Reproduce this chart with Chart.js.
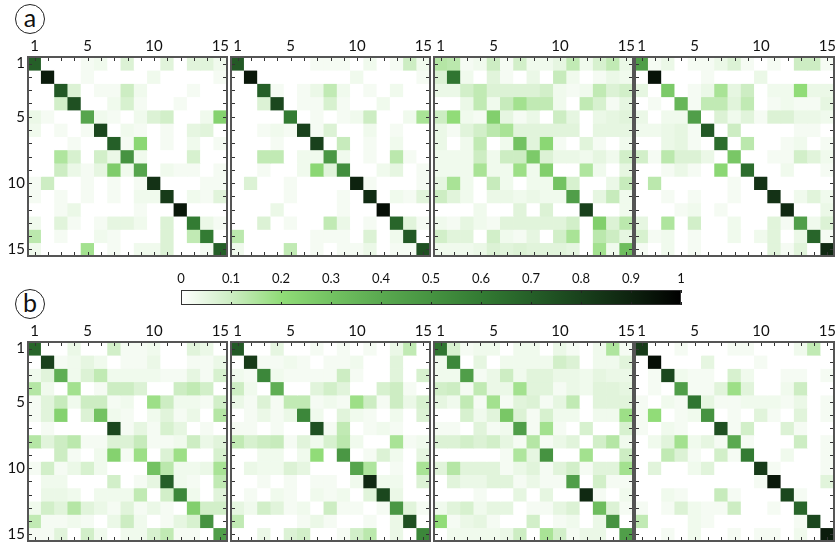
<!DOCTYPE html>
<html>
<head>
<meta charset="utf-8">
<script src="https://cdn.jsdelivr.net/npm/chart.js@4.4.1/dist/chart.umd.min.js"></script>
<style>
  body { margin: 0; background: #fff; width: 838px; height: 547px; position: relative; overflow: hidden; }
  canvas { position: absolute; }
  .tag { position: absolute; width: 28px; height: 28px; border: 1.3px solid #222; border-radius: 50%;
         font: 25px Lato, sans-serif; color: #111; text-align: center; line-height: 25px; }
</style>
</head>
<body>
<div class="tag" style="left:15px;top:4px">a</div>
<div class="tag" style="left:15px;top:289px">b</div>

<script>
// axis categories (1..15 on both axes) and the tick labels that are printed
const cols = ["1","2","3","4","5","6","7","8","9","10","11","12","13","14","15"];
const rows = [1,2,3,4,5,6,7,8,9,10,11,12,13,14,15];
const shownTicks = [1, 5, 10, 15];
const cbTicks = [0, 0.1, 0.2, 0.3, 0.4, 0.5, 0.6, 0.7, 0.8, 0.9, 1];
const cbLabels = ["0","0.1","0.2","0.3","0.4","0.5","0.6","0.7","0.8","0.9","1"];

// colour scale stops (value -> rgb)
const cmapVals = [0, 0.1, 0.2, 0.3, 0.4, 0.5, 0.6, 0.7, 0.8, 0.9, 1];
const cmapRgb = [[255,255,255],[205,237,195],[145,220,120],[115,194,98],[90,169,80],[70,147,65],
                 [51,123,51],[37,95,40],[25,65,28],[14,35,15],[0,0,0]];

// row a
const matA1 = [
  [0.7,0,0,0,0.02,0.03,0,0.07,0,0,0.06,0,0.06,0.06,0.03],
  [0,0.92,0,0,0.02,0,0,0,0,0.03,0,0,0,0,0.02],
  [0,0,0.72,0.07,0,0.02,0.02,0.1,0.03,0,0,0,0.02,0,0],
  [0,0,0.09,0.75,0,0,0.03,0.08,0.02,0,0,0.02,0,0,0],
  [0.04,0.02,0,0,0.42,0.03,0.02,0,0.03,0.07,0.09,0,0,0.03,0.24],
  [0.03,0,0.02,0,0.02,0.78,0,0.03,0.02,0,0.02,0,0.05,0.06,0],
  [0,0,0,0.02,0,0,0.7,0.02,0.22,0,0.02,0,0.03,0,0.02],
  [0,0,0.15,0.08,0,0.09,0.04,0.5,0.03,0,0,0,0.08,0,0],
  [0,0,0.1,0.04,0.02,0.05,0.26,0.03,0.42,0,0.03,0.02,0.02,0,0.02],
  [0.02,0.1,0,0,0.02,0,0.02,0,0.02,0.85,0,0,0,0.02,0.02],
  [0.02,0,0.02,0,0.02,0,0.02,0,0.03,0.03,0.82,0,0.03,0.02,0.06],
  [0,0,0.02,0.04,0,0,0,0,0.02,0,0,0.93,0,0,0],
  [0.03,0,0.06,0.02,0,0.02,0.05,0.05,0.03,0,0.07,0,0.6,0.04,0.02],
  [0.13,0,0.02,0,0,0.03,0.02,0,0,0,0.07,0,0.12,0.6,0],
  [0.03,0,0,0,0.17,0,0.02,0,0.03,0.03,0.07,0,0,0.02,0.7]
];
const matA2 = [
  [0.72,0,0,0,0,0,0.02,0.02,0.02,0,0.03,0,0.02,0.1,0.03],
  [0,0.93,0,0,0,0,0,0,0,0.03,0,0,0,0,0.02],
  [0,0,0.7,0.02,0,0.02,0.04,0.12,0.03,0,0.02,0,0.03,0,0],
  [0,0,0.07,0.78,0,0.02,0.02,0.08,0.02,0,0,0.03,0,0,0],
  [0,0,0,0,0.6,0,0.02,0,0.02,0.03,0.1,0,0,0.03,0.16],
  [0,0,0.02,0.03,0.02,0.8,0.02,0.07,0,0,0.03,0,0.02,0,0],
  [0,0,0,0.02,0,0,0.8,0,0.11,0,0.02,0,0.03,0,0],
  [0,0,0.12,0.12,0,0.03,0.03,0.48,0.03,0,0.02,0,0.13,0.02,0],
  [0,0,0.02,0,0,0.03,0.22,0.06,0.52,0,0,0.03,0.05,0,0.02],
  [0,0.07,0,0,0.02,0,0,0,0,0.9,0.02,0,0,0,0.02],
  [0,0,0,0,0.02,0,0,0,0.02,0,0.87,0,0.03,0.02,0.06],
  [0,0,0,0.04,0,0,0,0,0.02,0,0,0.96,0,0,0],
  [0,0,0.07,0,0.02,0,0,0.12,0.04,0,0.02,0,0.68,0.06,0.02],
  [0.13,0,0,0,0,0,0.02,0.02,0.02,0,0.07,0,0.03,0.72,0],
  [0.03,0,0,0,0.12,0,0.02,0,0.02,0.02,0.04,0,0.02,0.02,0.75]
];
const matA3 = [
  [0.14,0.13,0.02,0.03,0.1,0.02,0.09,0.03,0.03,0.05,0.12,0.03,0.08,0.12,0.04],
  [0.07,0.62,0.03,0,0.06,0.02,0,0.04,0,0.11,0.03,0,0.02,0.04,0.03],
  [0.04,0.04,0.09,0.12,0.07,0.07,0.07,0.07,0.09,0.03,0.02,0.03,0.12,0.07,0.09],
  [0,0,0.04,0.12,0.03,0.11,0.17,0.12,0.12,0.03,0,0.12,0.08,0.02,0.05],
  [0.1,0.2,0.03,0.02,0.25,0.05,0.02,0.04,0,0.1,0.05,0,0.04,0.05,0.06],
  [0.04,0.02,0.06,0.09,0.13,0.16,0.06,0.06,0.06,0.06,0.06,0,0.05,0.05,0.05],
  [0.04,0,0.03,0.12,0,0.03,0.3,0.06,0.22,0.02,0,0.06,0.02,0,0.03],
  [0.03,0.03,0.03,0.1,0.03,0.1,0.1,0.27,0.07,0.04,0.04,0.03,0.05,0.03,0.09],
  [0.03,0.03,0.03,0.16,0.03,0.03,0.18,0.03,0.25,0,0,0.15,0.03,0,0.05],
  [0.05,0.16,0.03,0,0.11,0.03,0,0.03,0.03,0.3,0.08,0,0,0.04,0.11],
  [0.1,0.06,0.03,0,0.04,0.04,0.03,0.04,0.03,0.03,0.45,0,0.05,0.11,0.03],
  [0,0,0,0.03,0,0,0.06,0,0.07,0,0,0.8,0,0,0.03],
  [0.03,0.02,0.05,0.03,0.02,0.06,0.06,0.06,0.06,0.06,0.09,0,0.25,0.07,0.13],
  [0.09,0.06,0.06,0,0.09,0.03,0.02,0.05,0,0.09,0.16,0,0.13,0.1,0.05],
  [0.03,0.03,0.03,0.04,0.07,0.06,0.07,0.06,0.06,0.06,0.05,0,0.17,0.03,0.32]
];
const matA4 = [
  [0.45,0.02,0.04,0,0.02,0.02,0.04,0.07,0.02,0,0.02,0,0.1,0.1,0.02],
  [0,0.95,0,0,0,0.02,0,0,0,0.04,0,0,0,0,0],
  [0.05,0,0.27,0,0.02,0.04,0.16,0.05,0.1,0,0.03,0.03,0.2,0.04,0.04],
  [0,0.02,0,0.35,0.02,0.12,0.12,0.06,0.12,0,0.02,0.03,0.02,0.02,0.05],
  [0.04,0,0.03,0.03,0.45,0,0.07,0.03,0.06,0.02,0.07,0.07,0.04,0.04,0.03],
  [0.03,0.03,0.04,0.05,0.02,0.72,0,0.1,0,0,0,0,0.02,0.02,0],
  [0,0,0.04,0.05,0.02,0,0.65,0,0.13,0,0,0.02,0.03,0,0.02],
  [0.09,0.02,0.13,0.07,0.07,0.04,0,0.28,0,0,0.02,0.02,0.09,0.06,0.03],
  [0,0,0.02,0.04,0.02,0,0.22,0,0.65,0,0,0.03,0,0,0.02],
  [0,0.13,0,0,0,0,0,0.02,0,0.85,0,0,0,0,0],
  [0,0,0.02,0,0.02,0,0,0.02,0,0,0.85,0,0.03,0.06,0.03],
  [0,0,0,0.02,0.03,0,0.02,0,0,0,0,0.88,0,0,0.04],
  [0.05,0,0.15,0,0.09,0,0,0.03,0,0,0.06,0.02,0.45,0.03,0.07],
  [0.08,0.02,0.03,0,0.02,0,0,0.03,0,0.03,0.06,0,0.04,0.68,0.02],
  [0.02,0,0.03,0,0.02,0,0,0,0,0,0.06,0.02,0.06,0,0.88]
];

// row b
const matB1 = [
  [0.68,0,0,0.04,0,0,0.09,0.02,0.02,0.03,0,0,0.06,0.04,0],
  [0,0.8,0.02,0.03,0.05,0.03,0,0.02,0.02,0.04,0,0,0.02,0.02,0.04],
  [0.03,0.06,0.38,0.03,0.07,0.12,0.03,0.03,0.03,0.03,0.02,0.02,0.05,0.02,0.08],
  [0.14,0.03,0,0.17,0,0.02,0.1,0.1,0.07,0,0,0.1,0.12,0.09,0],
  [0.02,0.06,0.11,0.03,0.1,0.1,0.02,0.03,0,0.18,0.1,0.03,0.03,0.02,0.09],
  [0.02,0.06,0.24,0,0.07,0.3,0.03,0.02,0,0.03,0.06,0.02,0.04,0,0.14],
  [0,0.02,0,0,0,0,0.78,0.02,0.05,0.02,0.08,0.05,0,0.02,0],
  [0.14,0.06,0.1,0.13,0.02,0.02,0.07,0.07,0.11,0.02,0.02,0.03,0.1,0.04,0.06],
  [0,0,0.1,0.02,0,0.03,0.24,0.02,0.18,0,0.07,0.18,0,0,0.08],
  [0.02,0.09,0.02,0.04,0.08,0.03,0,0,0,0.3,0.13,0.03,0.03,0.04,0.16],
  [0,0.03,0.03,0,0,0,0.09,0,0.02,0.05,0.7,0.03,0.02,0,0.12],
  [0,0.04,0.04,0.03,0,0.03,0.03,0.03,0.12,0,0.09,0.55,0.03,0,0.06],
  [0.03,0.09,0.06,0.14,0.06,0.04,0.02,0.06,0.02,0.04,0.02,0,0.25,0.09,0.09],
  [0.12,0.02,0.02,0.03,0.02,0,0.04,0.1,0.03,0,0.02,0.05,0.08,0.5,0],
  [0.02,0.02,0.06,0,0.09,0.03,0,0.03,0.03,0.08,0.12,0.02,0.02,0,0.45]
];
const matB2 = [
  [0.72,0,0,0.05,0,0,0.02,0,0.02,0,0.02,0,0.04,0.12,0],
  [0,0.82,0.02,0.02,0.03,0.02,0,0.02,0.02,0.03,0,0,0.06,0,0],
  [0.03,0.02,0.55,0.03,0.02,0.02,0.02,0.02,0.1,0.02,0,0,0.06,0,0.08],
  [0.1,0.03,0,0.38,0,0,0.06,0.09,0.06,0,0,0.08,0.1,0.02,0],
  [0.04,0.02,0.07,0.02,0.12,0.12,0.02,0.03,0.02,0.18,0.1,0.02,0.1,0.04,0.08],
  [0,0.02,0.04,0.02,0.04,0.55,0.03,0,0.06,0.03,0.02,0,0.03,0,0.07],
  [0.02,0.02,0,0.02,0,0,0.75,0.02,0.12,0,0.02,0.03,0.02,0,0],
  [0.12,0.08,0.1,0.11,0.02,0.06,0.03,0.08,0.13,0.03,0,0,0.16,0.02,0.03],
  [0,0,0.03,0.03,0,0.03,0.2,0,0.48,0,0.02,0.07,0.03,0,0.05],
  [0,0.04,0.03,0.03,0.07,0.05,0,0,0,0.42,0.15,0,0.02,0,0.16],
  [0,0,0.02,0,0.02,0,0.02,0.02,0,0.03,0.88,0.03,0.03,0,0.07],
  [0,0.02,0,0.03,0.02,0,0.03,0.02,0.03,0,0.06,0.78,0.04,0,0],
  [0.05,0.03,0.09,0.06,0.02,0.03,0,0.1,0.02,0.02,0,0.02,0.48,0.06,0.02],
  [0.12,0,0,0,0,0.02,0.04,0.02,0,0,0.02,0,0.04,0.75,0],
  [0,0,0.04,0,0.07,0.09,0,0,0.02,0.09,0.13,0,0.04,0,0.55]
];
const matB3 = [
  [0.62,0.08,0.02,0.03,0.03,0,0.03,0.03,0,0.04,0.02,0,0.03,0.15,0.02],
  [0.03,0.55,0,0.05,0,0.03,0.03,0.03,0.03,0.09,0.07,0,0.03,0.03,0.06],
  [0.03,0.03,0.45,0.02,0.04,0.1,0.03,0.06,0.06,0.04,0.04,0.03,0.05,0.04,0.04],
  [0.09,0.1,0.02,0.12,0.04,0.04,0.17,0.06,0.06,0.02,0.04,0.03,0.06,0.06,0.05],
  [0.05,0.03,0.12,0.02,0.17,0.02,0.06,0.07,0.02,0.05,0.12,0,0.06,0.06,0.06],
  [0,0,0.08,0.03,0.06,0.28,0.07,0.02,0.08,0.03,0.03,0,0.03,0.03,0.18],
  [0.02,0.02,0,0.06,0.02,0.03,0.45,0.02,0.17,0.02,0,0.08,0,0,0.08],
  [0.07,0.07,0.09,0.07,0.09,0.05,0.02,0.14,0.02,0.04,0.06,0,0.09,0.14,0.03],
  [0,0,0,0,0,0.02,0.15,0.05,0.5,0,0,0.17,0,0,0.1],
  [0.06,0.14,0.06,0.06,0.06,0.02,0.04,0.06,0.02,0.06,0.09,0.02,0.06,0.06,0.17],
  [0,0.06,0.04,0.04,0.06,0.06,0.02,0.04,0.02,0.02,0.45,0,0.09,0.02,0.02],
  [0,0,0,0.02,0,0,0.05,0,0.05,0,0,0.88,0.02,0,0.03],
  [0.03,0.06,0.08,0.03,0.05,0.05,0,0.02,0.02,0.05,0.07,0,0.32,0.07,0.02],
  [0.2,0.02,0.04,0.05,0.02,0,0,0.09,0,0.02,0.03,0,0.04,0.5,0],
  [0,0.03,0.03,0.03,0.03,0.04,0.1,0,0.16,0.09,0.02,0.04,0.04,0,0.45]
];
const matB4 = [
  [0.82,0,0,0.02,0,0,0,0.02,0.02,0,0,0,0.03,0.12,0],
  [0,0.96,0,0,0,0.05,0,0,0,0.02,0,0,0,0,0],
  [0,0.02,0.78,0.03,0.02,0.02,0,0.08,0.03,0,0,0.02,0.02,0,0.02],
  [0,0.02,0,0.45,0.02,0.02,0.06,0.18,0.06,0,0,0.03,0.1,0,0],
  [0.02,0,0.03,0.02,0.62,0.05,0.02,0.02,0.03,0.03,0.03,0.02,0.04,0,0.02],
  [0.02,0.2,0,0.02,0.03,0.5,0,0.02,0,0.06,0.02,0,0.06,0,0.02],
  [0.02,0,0.03,0.02,0,0,0.75,0.02,0.09,0,0,0.07,0.02,0,0],
  [0,0.03,0.06,0.17,0.03,0.05,0.02,0.4,0.02,0,0,0,0.1,0,0.02],
  [0,0,0.12,0.07,0.02,0,0.09,0.02,0.6,0,0,0.03,0,0,0.02],
  [0,0.06,0,0,0.03,0.06,0,0,0,0.82,0.02,0,0,0,0.02],
  [0,0,0,0,0,0,0,0,0,0.02,0.93,0,0,0,0.06],
  [0,0,0.03,0.02,0,0,0.11,0.02,0,0,0,0.78,0.02,0,0],
  [0.02,0,0.02,0.07,0.03,0.02,0.02,0.1,0,0,0.02,0,0.68,0,0],
  [0.12,0,0,0,0.03,0.02,0,0,0,0,0,0,0.02,0.78,0],
  [0,0,0.02,0,0.03,0,0,0.02,0,0.02,0.02,0,0.03,0,0.92]
];

// layout of the plot areas (px)
const panelLefts = [28, 231, 434, 635];
const rowTops = [57, 342];
const PW = 199, PH = 199, PAD = 6, TOPH = 20, LEFTW = 26;
const FONT = { family: "Lato, 'Open Sans', sans-serif", size: 15 };

function cmap(v) {
  let i = 0;
  while (i < cmapVals.length - 2 && v > cmapVals[i + 1]) i++;
  const t = Math.max(0, Math.min(1, (v - cmapVals[i]) / (cmapVals[i + 1] - cmapVals[i])));
  const a = cmapRgb[i], b = cmapRgb[i + 1];
  const c = a.map((x, k) => Math.round(x + (b[k] - x) * t));
  return `rgb(${c[0]},${c[1]},${c[2]})`;
}

// frame and inward tick marks on all four sides
const frame = {
  id: "frame",
  afterDraw(chart) {
    const { ctx, chartArea: a, scales: { x, y } } = chart;
    ctx.save();
    ctx.strokeStyle = "#333";
    ctx.lineWidth = 1;
    ctx.beginPath();
    cols.forEach((c, i) => {
      const px = Math.round(x.getPixelForValue(i)) + 0.5;
      ctx.moveTo(px, a.top); ctx.lineTo(px, a.top + 4);
      ctx.moveTo(px, a.bottom); ctx.lineTo(px, a.bottom - 4);
    });
    rows.forEach((r) => {
      const py = Math.round(y.getPixelForValue(r)) + 0.5;
      ctx.moveTo(a.left, py); ctx.lineTo(a.left + 4, py);
      ctx.moveTo(a.right, py); ctx.lineTo(a.right - 4, py);
    });
    ctx.stroke();
    ctx.strokeStyle = "#555";
    ctx.lineWidth = 2;
    ctx.strokeRect(a.left, a.top, a.width, a.height);
    ctx.restore();
  },
};

function makePanel(mat, rowIdx, colIdx) {
  const first = colIdx === 0;
  const lw = first ? LEFTW : 0;
  const cv = document.createElement("canvas");
  cv.width = lw + PW + 2 * PAD;
  cv.height = TOPH + PH + 2 * PAD;
  cv.style.left = (panelLefts[colIdx] - lw - PAD) + "px";
  cv.style.top = (rowTops[rowIdx] - TOPH - PAD) + "px";
  document.body.appendChild(cv);

  const datasets = rows.map((r, i) => ({
    data: cols.map(() => [r - 0.5, r + 0.5]),
    backgroundColor: mat[i].map(cmap),
    borderWidth: 0,
    barPercentage: 1,
    categoryPercentage: 1,
    grouped: false,
  }));

  new Chart(cv, {
    type: "bar",
    data: { labels: cols, datasets },
    options: {
      responsive: false,
      animation: false,
      events: [],
      layout: { padding: PAD },
      plugins: { legend: { display: false }, tooltip: { enabled: false } },
      scales: {
        x: {
          type: "category",
          position: "top",
          offset: true,
          grid: { display: false, drawTicks: false },
          border: { display: false },
          ticks: {
            autoSkip: false, maxRotation: 0, padding: 2, color: "#111", font: FONT,
            callback: (v, i) => (shownTicks.includes(i + 1) ? cols[i] : ""),
          },
          afterFit: (s) => { s.height = TOPH; s.paddingLeft = 0; s.paddingRight = 0; },
        },
        y: {
          type: "linear",
          display: first,
          reverse: true,
          min: 0.5,
          max: 15.5,
          grid: { display: false, drawTicks: false },
          border: { display: false },
          afterBuildTicks: (s) => { s.ticks = rows.map((v) => ({ value: v })); },
          ticks: {
            autoSkip: false, padding: 3, color: "#111", font: FONT,
            callback: (v) => (shownTicks.includes(v) ? String(v) : ""),
          },
          afterFit: (s) => { s.width = lw; s.paddingTop = 0; s.paddingBottom = 0; },
        },
      },
    },
    plugins: [frame],
  });
}

[matA1, matA2, matA3, matA4].forEach((m, i) => makePanel(m, 0, i));
[matB1, matB2, matB3, matB4].forEach((m, i) => makePanel(m, 1, i));

// colour bar
const cb = document.createElement("canvas");
cb.width = 520; cb.height = 43;
cb.style.left = "171px"; cb.style.top = "266px";
document.body.appendChild(cb);

const cbFrame = {
  id: "cbFrame",
  afterDraw(chart) {
    const { ctx, chartArea: a, scales: { x } } = chart;
    ctx.save();
    ctx.strokeStyle = "#222";
    ctx.lineWidth = 1;
    ctx.beginPath();
    cbTicks.forEach((t) => {
      const px = Math.round(x.getPixelForValue(t)) + 0.5;
      ctx.moveTo(px, a.top); ctx.lineTo(px, a.top + 3);
      ctx.moveTo(px, a.bottom); ctx.lineTo(px, a.bottom - 3);
    });
    ctx.stroke();
    ctx.strokeStyle = "#333";
    ctx.strokeRect(a.left + 0.5, a.top + 0.5, a.width - 1, a.height - 1);
    ctx.restore();
  },
};

new Chart(cb, {
  type: "bar",
  data: {
    labels: ["scale"],
    datasets: [{
      data: [[cbTicks[0], cbTicks[cbTicks.length - 1]]],
      backgroundColor: (ctx) => {
        const a = ctx.chart.chartArea;
        if (!a) return "#fff";
        const g = ctx.chart.ctx.createLinearGradient(a.left, 0, a.right, 0);
        cmapVals.forEach((v) => g.addColorStop(v, cmap(v)));
        return g;
      },
      borderWidth: 0,
      barPercentage: 1,
      categoryPercentage: 1,
    }],
  },
  options: {
    indexAxis: "y",
    responsive: false,
    animation: false,
    events: [],
    layout: { padding: { left: 10, right: 10, top: 0, bottom: 4 } },
    plugins: { legend: { display: false }, tooltip: { enabled: false } },
    scales: {
      x: {
        type: "linear",
        position: "top",
        min: 0,
        max: 1,
        grid: { display: false, drawTicks: false },
        border: { display: false },
        afterBuildTicks: (s) => { s.ticks = cbTicks.map((v) => ({ value: v })); },
        ticks: {
          padding: 3, color: "#111", font: { family: FONT.family, size: 13 },
          callback: (v, i) => cbLabels[i],
        },
        afterFit: (s) => { s.height = 24; s.paddingLeft = 0; s.paddingRight = 0; },
      },
      y: { type: "category", display: false },
    },
  },
  plugins: [cbFrame],
});
</script>
</body>
</html>
